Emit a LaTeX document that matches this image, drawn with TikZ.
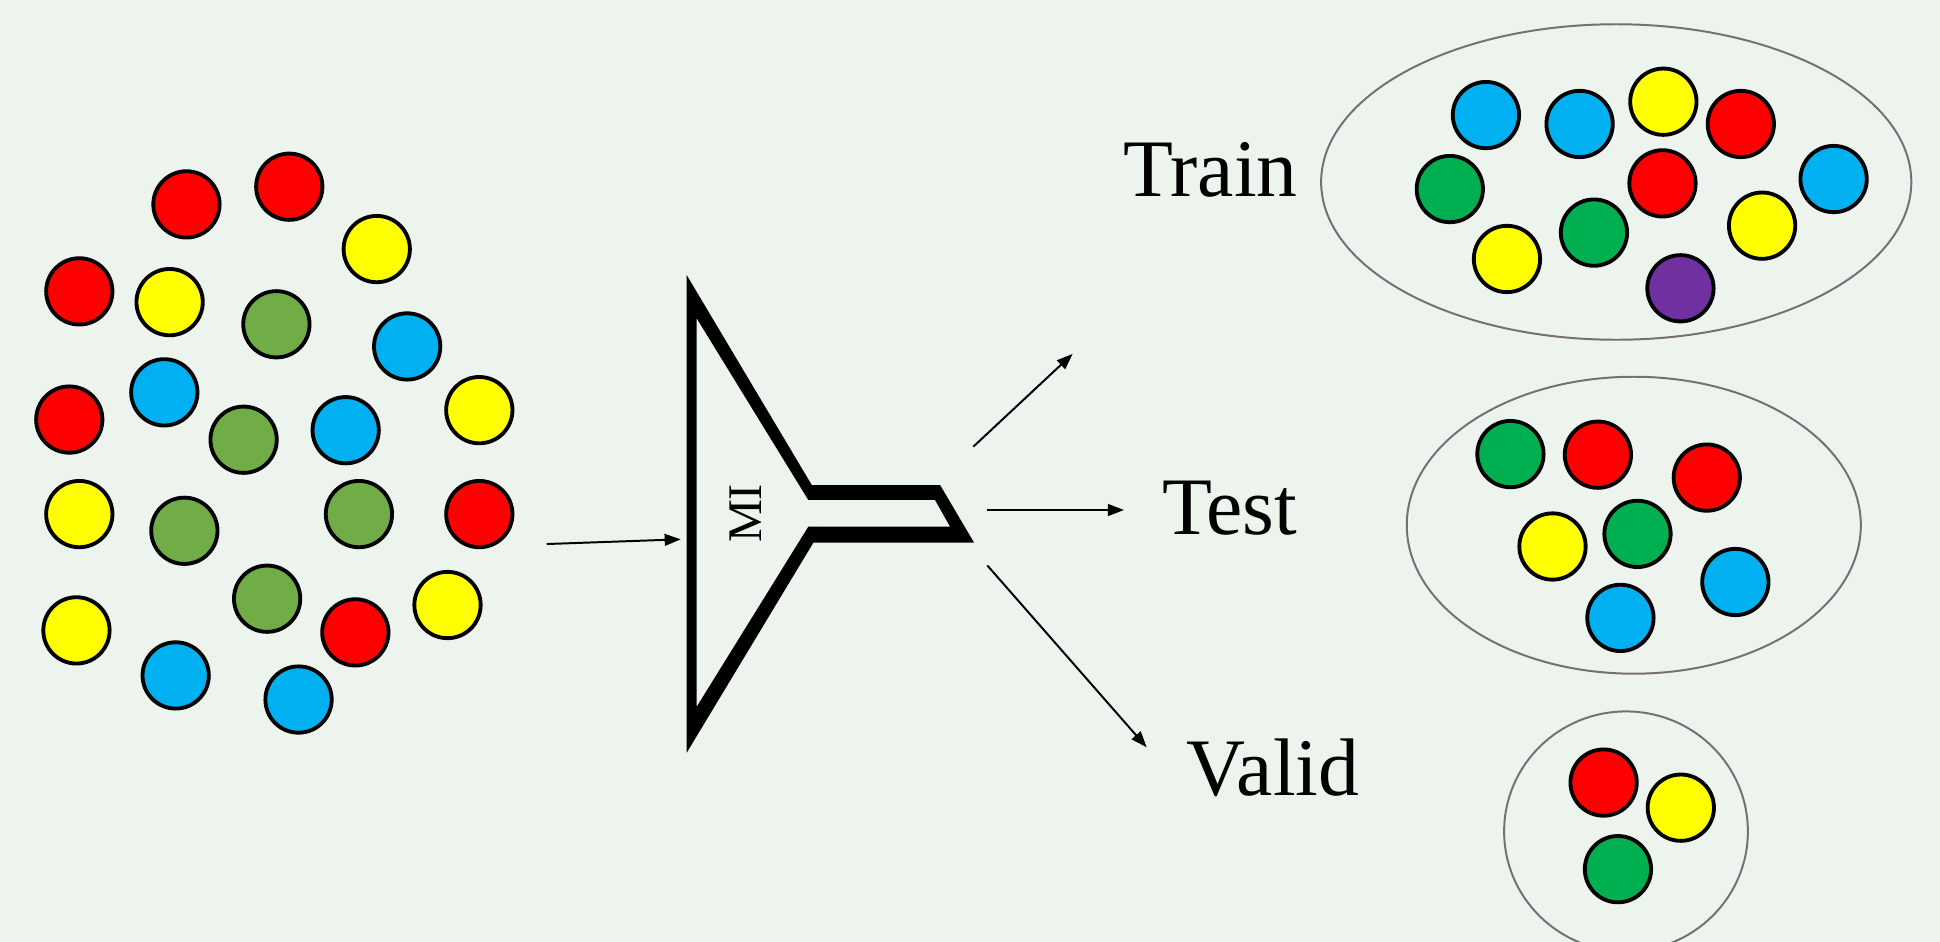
\documentclass[tikz,border=0pt]{standalone}
\usepackage{fontspec}
\setmainfont{Liberation Serif}
\usetikzlibrary{arrows.meta,shapes.geometric}

\definecolor{bgpale}{HTML}{EDF4ED}
\definecolor{cred}{HTML}{FF0000}
\definecolor{cyellow}{HTML}{FFFF00}
\definecolor{cblue}{HTML}{00B0F0}
\definecolor{colive}{HTML}{70AD47}
\definecolor{cgreen}{HTML}{00B050}
\definecolor{cpurple}{HTML}{7030A0}
\definecolor{setline}{HTML}{767171}

\tikzset{
  ball/.style={circle, draw=black, line width=3.1pt, minimum size=53.6pt, inner sep=0pt, fill=#1},
  setring/.style={ellipse, draw=setline, line width=1.6pt},
  arr/.style={line width=1.6pt, -{Triangle[length=13pt,width=9.5pt]}},
  label/.style={anchor=base west, inner sep=0pt, font=\fontsize{66}{70}\selectfont},
}

\begin{document}
\begin{tikzpicture}[x=1pt, y=-1pt]
  % canvas
  \fill[bgpale] (0,0) rectangle (1568,761);
  \useasboundingbox (0,0) rectangle (1568,761);

  % unsorted pool of samples
  \node[ball=cred]    (p1)  at (150.7,165.2) {};
  \node[ball=cred]    (p2)  at (233.8,150.9) {};
  \node[ball=cyellow] (p3)  at (304.5,201.3) {};
  \node[ball=cred]    (p4)  at (64.1,235.5) {};
  \node[ball=cyellow] (p5)  at (137.1,244.2) {};
  \node[ball=colive]  (p6)  at (223.4,262.1) {};
  \node[ball=cblue]   (p7)  at (329.1,280.0) {};
  \node[ball=cred]    (p8)  at (56.0,339.1) {};
  \node[ball=cblue]   (p9)  at (132.8,317.1) {};
  \node[ball=cyellow] (p10) at (387.4,331.5) {};
  \node[ball=colive]  (p11) at (196.9,355.4) {};
  \node[ball=cblue]   (p12) at (279.4,347.7) {};
  \node[ball=cyellow] (p13) at (64.1,415.5) {};
  \node[ball=colive]  (p14) at (149.0,429.0) {};
  \node[ball=colive]  (p15) at (290.1,415.5) {};
  \node[ball=cred]    (p16) at (387.4,415.5) {};
  \node[ball=colive]  (p17) at (215.9,483.9) {};
  \node[ball=cyellow] (p18) at (361.7,489.0) {};
  \node[ball=cred]    (p19) at (287.2,511.1) {};
  \node[ball=cyellow] (p20) at (61.8,509.5) {};
  \node[ball=cblue]   (p21) at (142.0,545.9) {};
  \node[ball=cblue]   (p22) at (241.3,565.4) {};

  % splitter funnel
  \fill[black, even odd rule]
    (555.0,222.3) -- (656.1,392.0) -- (759.8,392.0) -- (787.3,438.6)
      -- (657.4,438.6) -- (555.0,608.4) -- cycle
    (563.1,257.3) -- (653.3,404.1) -- (755.7,404.1) -- (767.9,425.7)
      -- (653.3,425.7) -- (563.1,571.2) -- cycle;
  \node[rotate=90, inner sep=0pt, font=\fontsize{39}{40}\selectfont] (mi) at (602.8,415) {MI};

  % connectors
  \coordinate (in0) at (441.9,439.7);
  \coordinate (in1) at (550.2,435.9);
  \coordinate (o1a) at (786.7,361.0);
  \coordinate (o1b) at (867.0,286.0);
  \coordinate (o2a) at (798.0,412.2);
  \coordinate (o2b) at (908.5,412.2);
  \coordinate (o3a) at (798.0,457.0);
  \coordinate (o3b) at (926.8,604.0);
  \draw[arr] (in0) -- (in1);
  \draw[arr] (o1a) -- (o1b);
  \draw[arr] (o2a) -- (o2b);
  \draw[arr] (o3a) -- (o3b);

  % labels
  \node[label] (train) at (908,159.0) {Train};
  \node[label] (test)  at (939,432.4) {Test};
  \node[label] (valid) at (959,642.6) {Valid};

  % training set
  \node[setring, minimum width=477pt, minimum height=255pt, inner sep=0pt] (trainset) at (1306.3,147.1) {};
  \node[ball=cblue]   (tr1)  at (1201.0,93.0) {};
  \node[ball=cblue]   (tr2)  at (1276.7,100.2) {};
  \node[ball=cyellow] (tr3)  at (1344.4,82.2) {};
  \node[ball=cred]    (tr4)  at (1407.0,100.2) {};
  \node[ball=cgreen]  (tr5)  at (1171.8,152.8) {};
  \node[ball=cred]    (tr6)  at (1343.7,148.2) {};
  \node[ball=cblue]   (tr7)  at (1482.0,144.7) {};
  \node[ball=cyellow] (tr8)  at (1218.0,209.3) {};
  \node[ball=cgreen]  (tr9)  at (1288.3,188.0) {};
  \node[ball=cyellow] (tr10) at (1424.2,182.4) {};
  \node[ball=cpurple] (tr11) at (1358.2,233.0) {};

  % test set
  \node[setring, minimum width=367pt, minimum height=240pt, inner sep=0pt] (testset) at (1320.5,424.5) {};
  \node[ball=cgreen]  (te1) at (1220.8,367.0) {};
  \node[ball=cred]    (te2) at (1291.5,367.5) {};
  \node[ball=cred]    (te3) at (1379.5,386.0) {};
  \node[ball=cyellow] (te4) at (1254.8,441.7) {};
  \node[ball=cgreen]  (te5) at (1323.5,431.5) {};
  \node[ball=cblue]   (te6) at (1402.6,470.4) {};
  \node[ball=cblue]   (te7) at (1309.7,499.4) {};

  % validation set
  \node[setring, minimum width=197pt, minimum height=194pt, inner sep=0pt] (validset) at (1314.2,672.0) {};
  \node[ball=cred]    (va1) at (1296.1,632.5) {};
  \node[ball=cyellow] (va2) at (1358.5,652.8) {};
  \node[ball=cgreen]  (va3) at (1307.7,702.5) {};
\end{tikzpicture}
\end{document}
